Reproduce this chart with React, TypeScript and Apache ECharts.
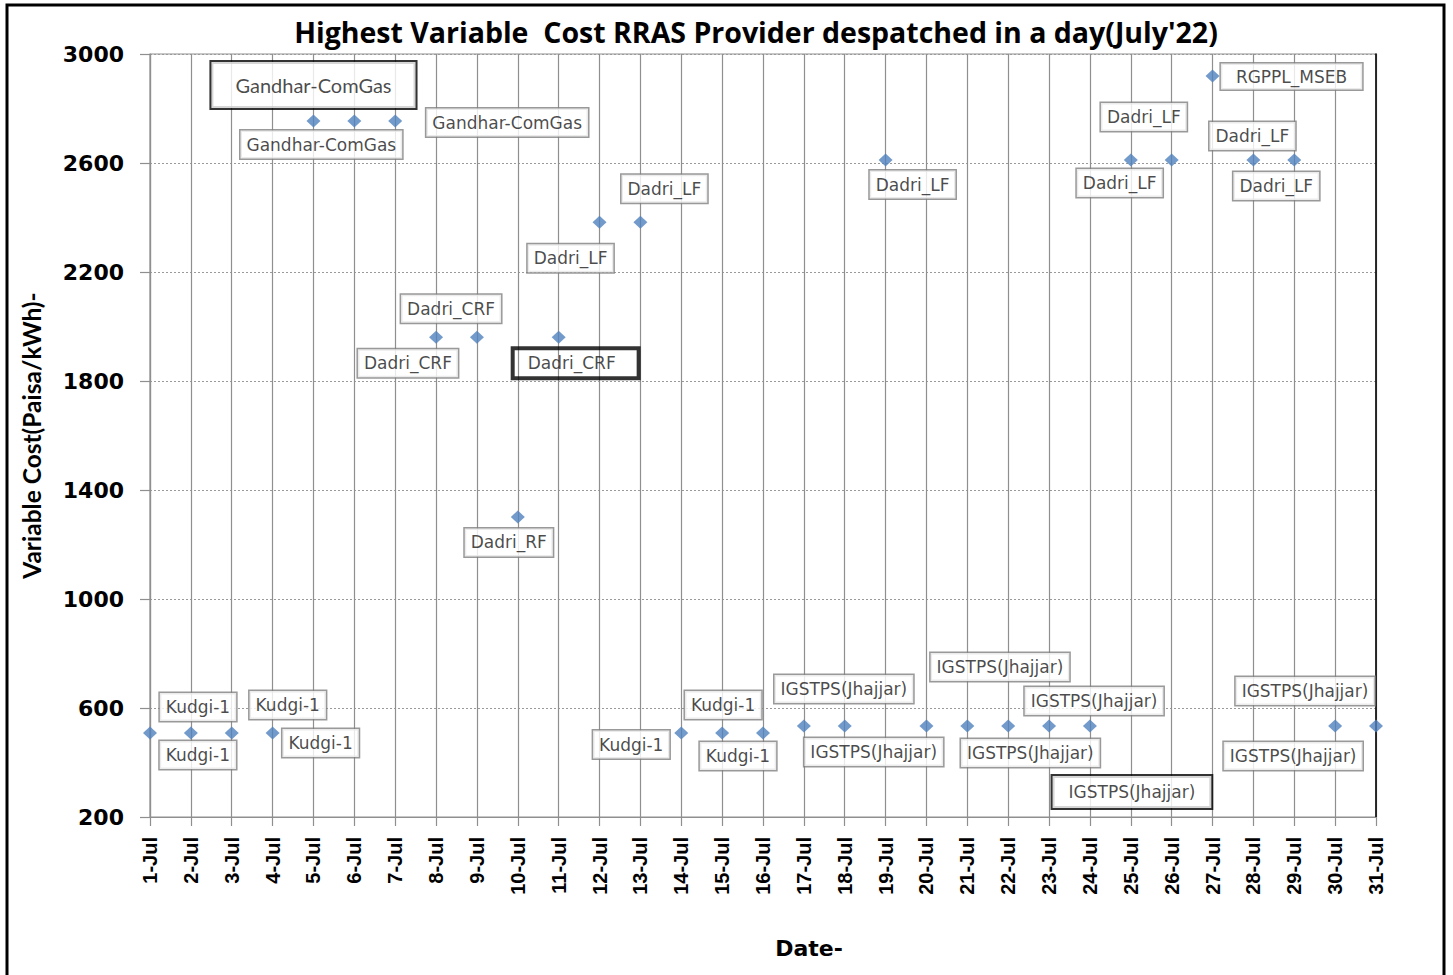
import React, { useEffect, useRef } from "react";
import * as echarts from "echarts";

const days = [
  "1-Jul", "2-Jul", "3-Jul", "4-Jul", "5-Jul", "6-Jul", "7-Jul", "8-Jul", "9-Jul", "10-Jul",
  "11-Jul", "12-Jul", "13-Jul", "14-Jul", "15-Jul", "16-Jul", "17-Jul", "18-Jul", "19-Jul", "20-Jul",
  "21-Jul", "22-Jul", "23-Jul", "24-Jul", "25-Jul", "26-Jul", "27-Jul", "28-Jul", "29-Jul", "30-Jul", "31-Jul",
];

const costs = [
  508, 508, 508, 508, 2754, 2754, 2754, 1961, 1961, 1301,
  1961, 2383, 2383, 508, 508, 508, 534, 534, 2611, 534,
  534, 534, 534, 534, 2611, 2611, 2919, 2611, 2611, 534, 534,
];

const providers = [
  "Kudgi-1", "Kudgi-1", "Kudgi-1", "Kudgi-1", "Gandhar-ComGas", "Gandhar-ComGas", "Gandhar-ComGas",
  "Dadri_CRF", "Dadri_CRF", "Dadri_RF", "Dadri_CRF", "Dadri_LF", "Dadri_LF",
  "Kudgi-1", "Kudgi-1", "Kudgi-1", "IGSTPS(Jhajjar)", "IGSTPS(Jhajjar)", "Dadri_LF", "IGSTPS(Jhajjar)",
  "IGSTPS(Jhajjar)", "", "IGSTPS(Jhajjar)", "IGSTPS(Jhajjar)", "Dadri_LF", "Dadri_LF", "RGPPL_MSEB",
  "Dadri_LF", "Dadri_LF", "IGSTPS(Jhajjar)", "IGSTPS(Jhajjar)",
];

const yTicks = { min: 200, max: 3000, step: 400 };

// Layout only: label box offsets (px) from each marker, and box kind
const labelOffsets: [number, number][] = [
  [48, -26], [7, 22], [56, -28], [48, 10], [0, -36], [-33, 23.5], [112, 1.5],
  [15, -28.5], [-69, 26], [-9, 25.5], [17, 26], [-29, 36], [24, -33.5],
  [-50, 11.5], [1, -28], [-25, 23], [40, -37], [29, 26], [27, 24.5], [73.5, -59],
  [63, 27], [0, 0], [45, -25], [42, 66], [13, -43], [-52, 23], [79, 0.5],
  [-1, -24], [-18, 26], [-42, 30], [-71, -35],
];
const labelKinds = [
  "thin", "thin", "thin", "thin", "big", "thin", "thin",
  "thin", "thin", "thin", "thickCrf", "thin", "thin",
  "thin", "thin", "thin", "thin", "thin", "thin", "thin",
  "thin", "thin", "thin", "thickIg", "thin", "thin", "wide",
  "thin", "thin", "thin", "thin",
];

function labelStyle(kind: string) {
  const base = {
    fontFamily: "DejaVu Sans",
    fontSize: 17,
    lineHeight: 20,
    color: "#1a1a1a",
    backgroundColor: "#ffffff",
    borderColor: "#808080",
    borderWidth: 1.5,
    padding: [4, 6, 4, 6],
  };
  if (kind === "big") {
    return { ...base, fontFamily: "Lato", fontSize: 20, lineHeight: 22, borderColor: "#000", borderWidth: 2, padding: [12, 24, 12, 24] };
  }
  if (kind === "thickCrf") {
    return { ...base, backgroundColor: "transparent", borderColor: "#000", borderWidth: 2, padding: [5, 23, 5, 15] };
  }
  if (kind === "thickIg") {
    return { ...base, borderColor: "#000", borderWidth: 2, padding: [6, 16, 6, 16] };
  }
  if (kind === "wide") {
    return { ...base, padding: [3, 15, 3, 15] };
  }
  return base;
}

export default function App() {
  const ref = useRef<HTMLDivElement>(null);
  useEffect(() => {
    if (!ref.current) return;
    const chart = echarts.init(ref.current, null, { renderer: "svg" });
    const data = costs.map((v, i) => ({
      value: v,
      label: {
        show: providers[i] !== "",
        formatter: providers[i],
        position: "inside",
        offset: labelOffsets[i],
        ...labelStyle(labelKinds[i]),
      },
    }));
    chart.setOption({
      animation: false,
      backgroundColor: "#ffffff",
      grid: {
        left: 150,
        right: 77,
        top: 54,
        bottom: 158,
        show: true,
        borderColor: "#8f8f8f",
        borderWidth: 1.2,
        containLabel: false,
      },
      graphic: [
        {
          type: "rect",
          shape: { x: 7, y: 5, width: 1437, height: 1000 },
          style: { fill: "none", stroke: "#000", lineWidth: 3 },
          silent: true,
        },
        {
          type: "text",
          style: {
            text: "Highest Variable  Cost RRAS Provider despatched in a day(July'22)",
            x: 756,
            y: 32,
            align: "center",
            verticalAlign: "middle",
            fontFamily: "Open Sans",
            fontWeight: "bold",
            fontSize: 28.5,
            fill: "#000",
          },
        },
      ],
      xAxis: {
        type: "category",
        data: days,
        boundaryGap: false,
        name: "Date-",
        nameLocation: "middle",
        nameGap: 120,
        nameTextStyle: {
          fontFamily: "DejaVu Sans",
          fontWeight: "bold",
          fontSize: 22,
          color: "#000",
          padding: [0, 0, 0, 92],
        },
        axisLine: { show: true, lineStyle: { color: "#8f8f8f", width: 1.2 } },
        axisTick: { show: true, length: 9, interval: 0, lineStyle: { color: "#8f8f8f", width: 1.2 } },
        axisLabel: {
          rotate: 90,
          interval: 0,
          margin: 20,
          fontFamily: "Liberation Sans",
          fontWeight: "bold",
          fontSize: 20,
          color: "#000",
        },
        splitLine: { show: true, interval: 0, lineStyle: { color: "#8f8f8f", width: 1.2 } },
      },
      yAxis: [
        {
          type: "value",
          min: yTicks.min,
          max: yTicks.max,
          interval: yTicks.step,
          name: "Variable Cost(Paisa/kWh)-",
          nameLocation: "middle",
          nameRotate: 90,
          nameGap: 106,
          nameTextStyle: { fontFamily: "Lato", fontWeight: "bold", fontSize: 24.5, color: "#000" },
          axisLine: { show: true, lineStyle: { color: "#8f8f8f", width: 1.2 } },
          axisTick: { show: true, length: 10, lineStyle: { color: "#8f8f8f", width: 1.2 } },
          axisLabel: {
            margin: 26,
            formatter: (v: number) => String(v),
            fontFamily: "DejaVu Sans",
            fontWeight: "bold",
            fontSize: 22,
            color: "#000",
          },
          splitLine: { show: true, lineStyle: { color: "#9a9a9a", width: 1, type: [2, 2] } },
        },
        {
          type: "value",
          position: "right",
          min: yTicks.min,
          max: yTicks.max,
          interval: yTicks.step,
          axisLine: { show: true, lineStyle: { color: "#000", width: 1.5 } },
          axisTick: { show: false },
          axisLabel: { show: false },
          splitLine: { show: false },
        },
      ],
      series: [
        {
          type: "scatter",
          data,
          symbol: "diamond",
          symbolSize: [14, 13],
          itemStyle: { color: "#4F81BD" },
          emphasis: { disabled: true },
          z: 3,
        },
      ],
    });
    return () => chart.dispose();
  }, []);
  return (
    <div
      ref={ref}
      style={{ position: "absolute", left: 0, top: 0, width: 1453, height: 975 }}
    />
  );
}
